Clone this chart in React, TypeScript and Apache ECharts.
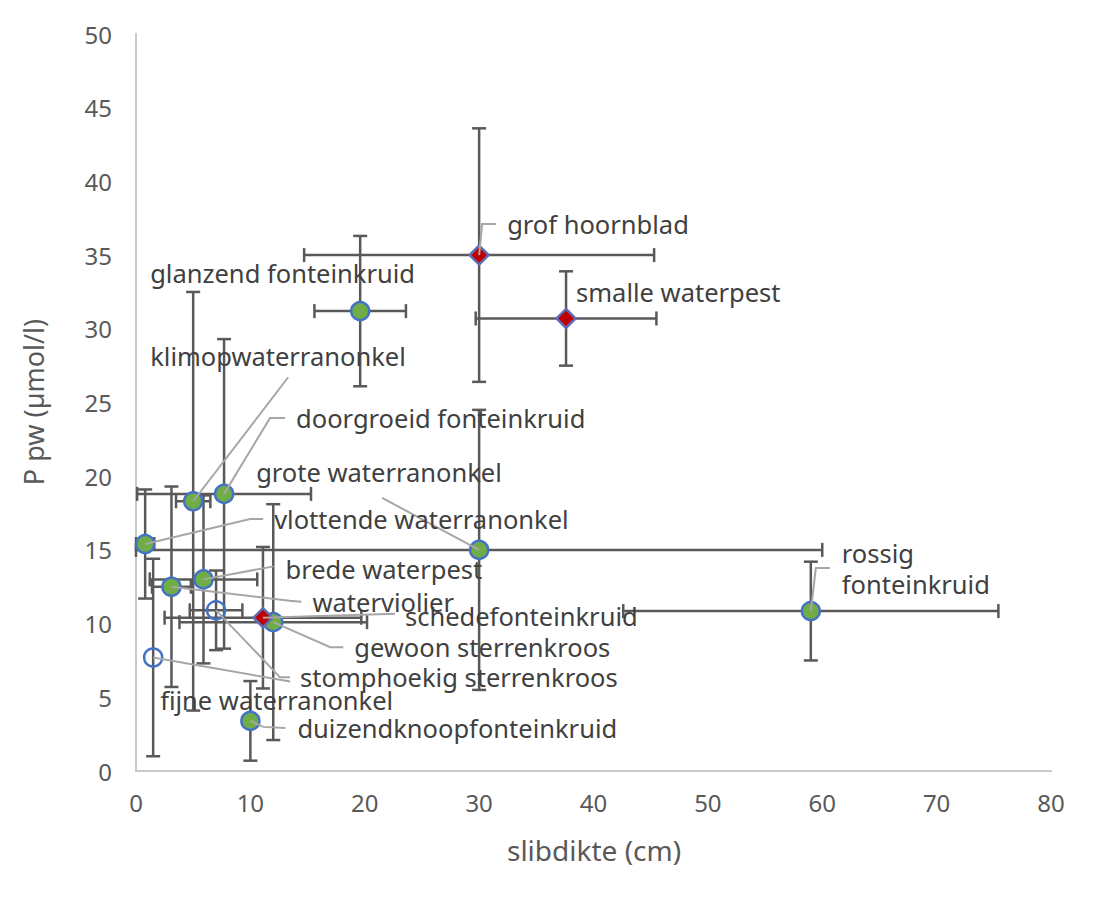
import React, { useEffect, useRef } from "react";
import * as echarts from "echarts";

// ---- data ----
const names = [
  "glanzend fonteinkruid",
  "grof hoornblad",
  "smalle waterpest",
  "klimopwaterranonkel",
  "doorgroeid fonteinkruid",
  "grote waterranonkel",
  "vlottende waterranonkel",
  "brede waterpest",
  "waterviolier",
  "schedefonteinkruid",
  "gewoon sterrenkroos",
  "stomphoekig sterrenkroos",
  "fijne waterranonkel",
  "duizendknoopfonteinkruid",
  "rossig\nfonteinkruid",
];
const slibdikte = [19.6, 30.0, 37.6, 5.0, 7.7, 30.0, 0.8, 5.9, 3.1, 11.1, 12.0, 7.0, 1.5, 10.0, 59.0];
const pPw = [31.2, 35.0, 30.7, 18.3, 18.8, 15.0, 15.4, 13.0, 12.5, 10.4, 10.1, 10.9, 7.7, 3.4, 10.85];
const slibErr = [4.0, 15.3, 7.9, 1.5, 7.6, 30.0, 0.8, 4.7, 1.7, 8.6, 8.2, 2.3, 0, 0, 16.4];
const pErr = [5.1, 8.6, 3.2, 14.2, 10.5, 9.5, 3.7, 5.7, 6.8, 4.8, 8.0, 2.7, 6.7, 2.7, 3.35];
const kind = ["green", "red", "red", "green", "green", "green", "green", "green", "green", "red", "green", "open", "open", "green", "green"];
const xTicks = { min: 0, max: 80, interval: 10 };
const yTicks = { min: 0, max: 50, interval: 5 };

// ---- label placement (pixel offsets from the marker, style only) ----
const labelOffset: number[][] = [
  [-210, -38], [28, -31], [10, -26], [-43, -145], [72, -76], [-223, -78], [129, -25],
  [82, -10], [141, 15], [142, -2], [81, 25], [84, 67], [7, 42], [47, 7], [31, -43],
];
const leaderOffset: number[][][] = [
  [], [[3, -31], [17, -31]], [], [[95, -124]], [[46, -76], [61, -76]], [[-97, -52]],
  [[105, -25], [118, -25]], [[70, -13]], [[118, 14], [130, 15]], [[132, -4]],
  [[57, 25], [70, 25]], [[64, 67], [74, 67]], [[137, 24]], [[13, 6], [35, 7]], [[5, -43], [19, -43]],
];

const FONT = "'Noto Sans', 'Open Sans', sans-serif";

export default function App() {
  const ref = useRef<HTMLDivElement>(null);
  useEffect(() => {
    if (!ref.current) return;
    const chart = echarts.init(ref.current, undefined, { renderer: "svg" });
    const all = names.map((n, i) => [slibdikte[i], pPw[i], slibErr[i], pErr[i], i]);
    const byKind = (k: string) => all.filter((d) => kind[d[4] as number] === k);
    const cap = 7;
    chart.setOption({
      animation: false,
      backgroundColor: "#ffffff",
      grid: { left: 136, right: 49, top: 34, bottom: 133, containLabel: false },
      xAxis: {
        type: "value",
        min: xTicks.min,
        max: xTicks.max,
        interval: xTicks.interval,
        axisLine: { show: true, lineStyle: { color: "#C9C9C9", width: 2 } },
        axisTick: { show: false },
        splitLine: { show: false },
        axisLabel: { color: "#595959", fontSize: 24, fontFamily: FONT, margin: 19 },
      },
      yAxis: {
        type: "value",
        min: yTicks.min,
        max: yTicks.max,
        interval: yTicks.interval,
        axisLine: { show: true, lineStyle: { color: "#C9C9C9", width: 2 } },
        axisTick: { show: false },
        splitLine: { show: false },
        axisLabel: { color: "#595959", fontSize: 24, fontFamily: FONT, margin: 24 },
      },
      graphic: [
        {
          type: "text",
          x: 33,
          y: 402,
          rotation: Math.PI / 2,
          style: {
            text: "P pw (µmol/l)",
            fill: "#595959",
            fontSize: 27,
            fontFamily: FONT,
            align: "center",
            verticalAlign: "middle",
          },
        },
        {
          type: "text",
          x: 594,
          y: 850,
          style: {
            text: "slibdikte (cm)",
            fill: "#595959",
            fontSize: 28,
            fontFamily: FONT,
            align: "center",
            verticalAlign: "middle",
          },
        },
      ],
      series: [
        {
          type: "custom",
          name: "errors",
          z: 2,
          data: all,
          encode: { x: 0, y: 1 },
          renderItem: (params: any, api: any) => {
            const x = api.value(0), y = api.value(1), xe = api.value(2), ye = api.value(3);
            const children: any[] = [];
            const st = { stroke: "#595959", lineWidth: 2.5 };
            if (xe > 0) {
              const l = api.coord([x - xe, y]);
              const r = api.coord([x + xe, y]);
              children.push({ type: "line", shape: { x1: l[0], y1: l[1], x2: r[0], y2: r[1] }, style: st });
              children.push({ type: "line", shape: { x1: l[0], y1: l[1] - cap, x2: l[0], y2: l[1] + cap }, style: st });
              children.push({ type: "line", shape: { x1: r[0], y1: r[1] - cap, x2: r[0], y2: r[1] + cap }, style: st });
            }
            if (ye > 0) {
              const t = api.coord([x, y + ye]);
              const b = api.coord([x, y - ye]);
              children.push({ type: "line", shape: { x1: t[0], y1: t[1], x2: b[0], y2: b[1] }, style: st });
              children.push({ type: "line", shape: { x1: t[0] - cap, y1: t[1], x2: t[0] + cap, y2: t[1] }, style: st });
              children.push({ type: "line", shape: { x1: b[0] - cap, y1: b[1], x2: b[0] + cap, y2: b[1] }, style: st });
            }
            return { type: "group", children };
          },
        },
        {
          type: "scatter",
          name: "green",
          z: 3,
          data: byKind("green"),
          symbol: "circle",
          symbolSize: 18,
          itemStyle: { color: "#70AD47", borderColor: "#4472C4", borderWidth: 2.5, opacity: 1 },
        },
        {
          type: "scatter",
          name: "red",
          z: 3,
          data: byKind("red"),
          symbol: "diamond",
          symbolSize: 19,
          itemStyle: { color: "#C00000", borderColor: "#5E6CB4", borderWidth: 2.5, opacity: 1 },
        },
        {
          type: "scatter",
          name: "open",
          z: 3,
          data: byKind("open"),
          symbol: "circle",
          symbolSize: 18,
          itemStyle: { color: "none", borderColor: "#4472C4", borderWidth: 2.5, opacity: 1 },
        },
        {
          type: "custom",
          name: "labels",
          z: 5,
          data: all,
          encode: { x: 0, y: 1 },
          renderItem: (params: any, api: any) => {
            const i = params.dataIndex;
            const c = api.coord([api.value(0), api.value(1)]);
            const children: any[] = [];
            const lead = leaderOffset[i];
            if (lead.length) {
              const pts = [[c[0], c[1]], ...lead.map((p) => [c[0] + p[0], c[1] + p[1]])];
              children.push({
                type: "polyline",
                shape: { points: pts },
                style: { stroke: "#A6A6A6", lineWidth: 2, fill: "none" },
              });
            }
            children.push({
              type: "text",
              x: c[0] + labelOffset[i][0],
              y: c[1] + labelOffset[i][1],
              style: {
                text: names[i],
                fill: "#404040",
                fontSize: 25.5,
                fontFamily: FONT,
                align: "left",
                verticalAlign: "middle",
                lineHeight: 31,
              },
            });
            return { type: "group", children };
          },
        },
      ],
    });
    return () => chart.dispose();
  }, []);
  return (
    <div
      ref={ref}
      style={{ position: "fixed", left: 0, top: 0, width: 1100, height: 904, background: "#fff" }}
    />
  );
}
